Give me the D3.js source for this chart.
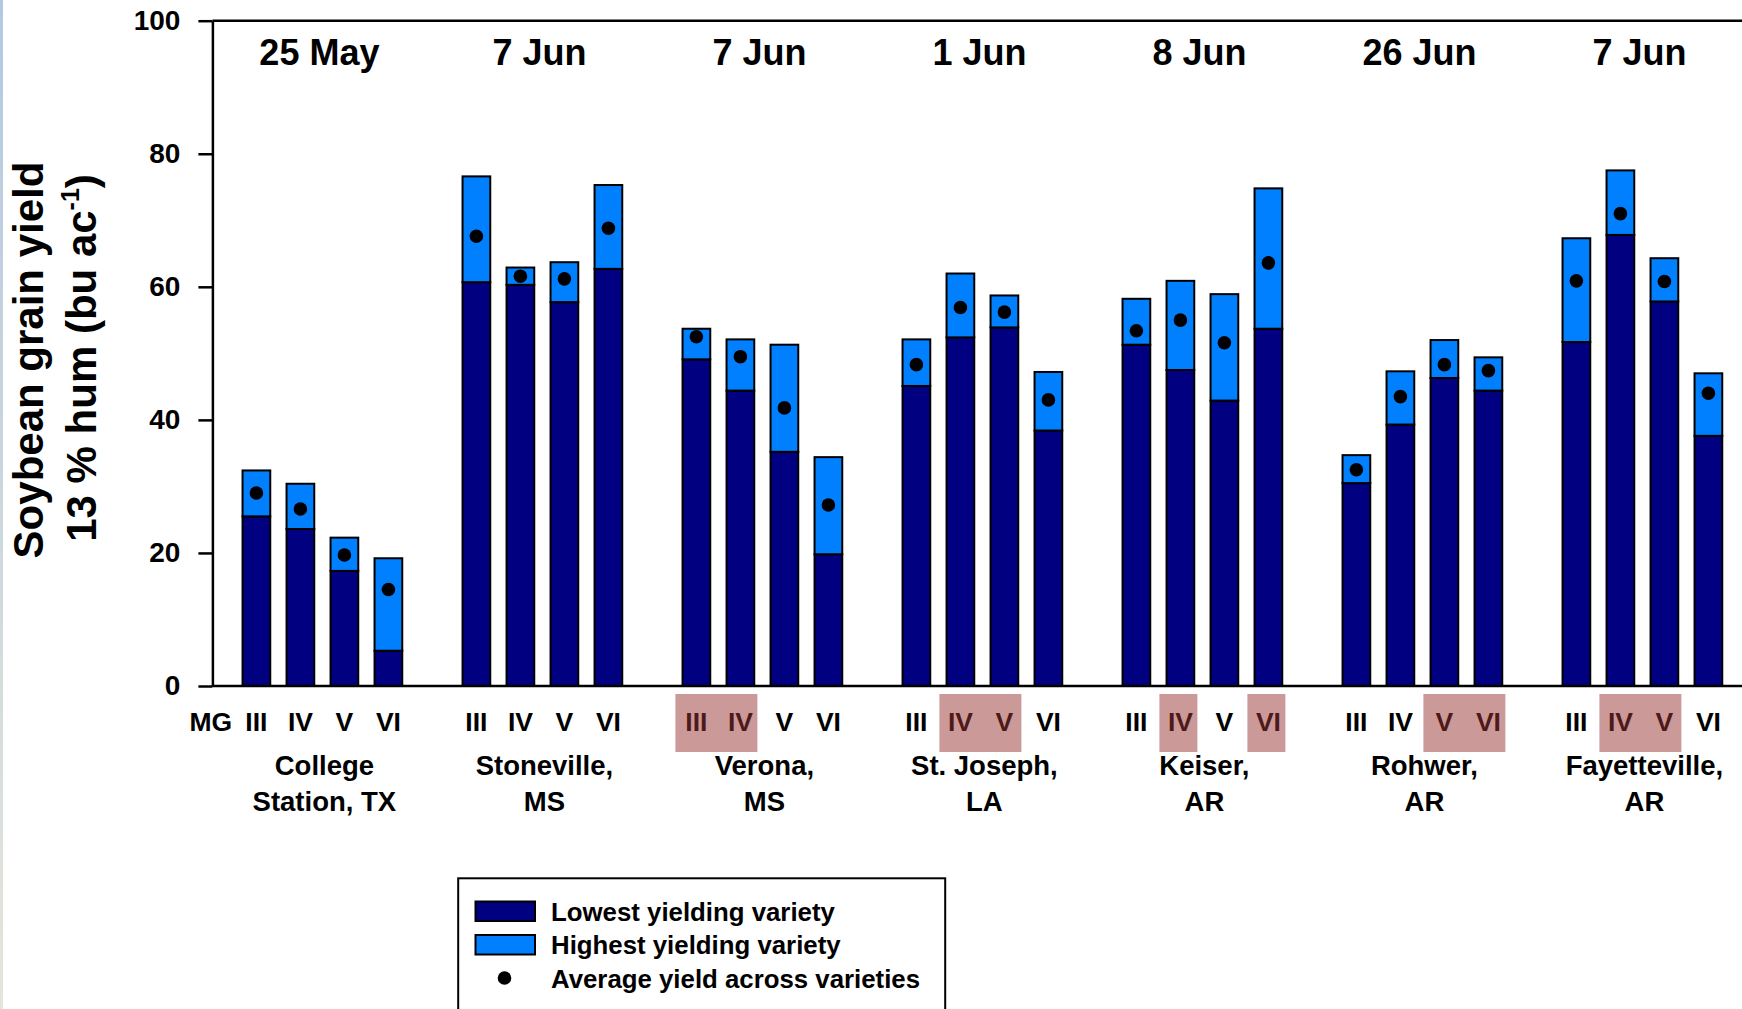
<!DOCTYPE html>
<html>
<head>
<meta charset="utf-8">
<script src="https://cdn.jsdelivr.net/npm/d3@7"></script>
<style>
  html, body { margin: 0; padding: 0; background: #fff; }
  svg { display: block; font-family: "Liberation Sans", Arial, sans-serif; font-weight: bold; }
</style>
</head>
<body>
<svg id="chart" width="1742" height="1009"></svg>
<script>
// Soybean yield by location and maturity group (MG)
const locations = ["College Station, TX", "Stoneville, MS", "Verona, MS", "St. Joseph, LA", "Keiser, AR", "Rohwer, AR", "Fayetteville, AR"];
const locationLines = [["College", "Station, TX"], ["Stoneville,", "MS"], ["Verona,", "MS"], ["St. Joseph,", "LA"], ["Keiser,", "AR"], ["Rohwer,", "AR"], ["Fayetteville,", "AR"]];
const plantingDates = ["25 May", "7 Jun", "7 Jun", "1 Jun", "8 Jun", "26 Jun", "7 Jun"];
const maturityGroups = ["III", "IV", "V", "VI"];

// yield (bu/ac) of the lowest yielding variety, per location, MG III..VI
const lowestYield = [
  [25.5, 23.6, 17.3, 5.3],
  [60.7, 60.3, 57.7, 62.7],
  [49.1, 44.4, 35.2, 19.8],
  [45.1, 52.4, 53.9, 38.4],
  [51.3, 47.5, 42.9, 53.7],
  [30.5, 39.3, 46.3, 44.4],
  [51.7, 67.8, 57.8, 37.6]
];
// yield of the highest yielding variety
const highestYield = [
  [32.4, 30.4, 22.3, 19.2],
  [76.6, 62.9, 63.7, 75.3],
  [53.7, 52.1, 51.3, 34.4],
  [52.1, 62.0, 58.7, 47.2],
  [58.2, 60.9, 58.9, 74.8],
  [34.7, 47.3, 52.0, 49.4],
  [67.3, 77.5, 64.3, 47.0]
];
// average yield across varieties
const averageYield = [
  [29.0, 26.6, 19.7, 14.5],
  [67.6, 61.6, 61.2, 68.8],
  [52.5, 49.5, 41.8, 27.2],
  [48.3, 56.9, 56.2, 43.0],
  [53.4, 55.0, 51.6, 63.6],
  [32.5, 43.5, 48.3, 47.4],
  [60.9, 71.0, 60.8, 44.0]
];
const yTicks = [0, 20, 40, 60, 80, 100];

// maturity groups marked at each location (runs of adjacent MGs)
const highlighted = [
  { loc: "Verona, MS", from: "III", to: "IV" },
  { loc: "St. Joseph, LA", from: "IV", to: "V" },
  { loc: "Keiser, AR", from: "IV", to: "IV" },
  { loc: "Keiser, AR", from: "VI", to: "VI" },
  { loc: "Rohwer, AR", from: "V", to: "VI" },
  { loc: "Fayetteville, AR", from: "IV", to: "V" }
];

const legendItems = ["Lowest yielding variety", "Highest yielding variety", "Average yield across varieties"];

const COL_LOW = "#000080", COL_HIGH = "#0080ff";

const svg = d3.select("#chart");

// left edge strip
const defs = svg.append("defs");
const grad = defs.append("linearGradient").attr("id", "edge").attr("x1", 0).attr("y1", 0).attr("x2", 0).attr("y2", 1);
grad.append("stop").attr("offset", "0%").attr("stop-color", "#b3c8e2");
grad.append("stop").attr("offset", "100%").attr("stop-color", "#e4e6da");
svg.append("rect").attr("x", 0).attr("y", 0).attr("width", 3).attr("height", 1009).attr("fill", "url(#edge)");

const axisX = 212.4;
const y = d3.scaleLinear().domain([0, 100]).range([686, 20.7]);
const x0 = d3.scaleBand().domain(locations).range([axisX, axisX + 1540]).paddingInner(0.2).paddingOuter(0.1);
const x1 = d3.scaleBand().domain(maturityGroups).range([0, x0.bandwidth()]).paddingInner(0.37).paddingOuter(0.185);

// bars
const rows = [];
locations.forEach((loc, i) => {
  maturityGroups.forEach((mg, j) => {
    rows.push({ loc, mg, low: lowestYield[i][j], high: highestYield[i][j], avg: averageYield[i][j] });
  });
});

const bars = svg.append("g");
bars.selectAll("rect.low").data(rows).join("rect").attr("class", "low")
  .attr("x", d => x0(d.loc) + x1(d.mg)).attr("width", x1.bandwidth())
  .attr("y", d => y(d.low)).attr("height", d => y(0) - y(d.low))
  .attr("fill", COL_LOW).attr("stroke", "#000").attr("stroke-width", 2);
bars.selectAll("rect.high").data(rows).join("rect").attr("class", "high")
  .attr("x", d => x0(d.loc) + x1(d.mg)).attr("width", x1.bandwidth())
  .attr("y", d => y(d.high)).attr("height", d => y(d.low) - y(d.high))
  .attr("fill", COL_HIGH).attr("stroke", "#000").attr("stroke-width", 2);
bars.selectAll("circle").data(rows).join("circle")
  .attr("cx", d => x0(d.loc) + x1(d.mg) + x1.bandwidth() / 2)
  .attr("cy", d => y(d.avg)).attr("r", 6.8).attr("fill", "#000");

// y axis
const yAxis = svg.append("g").attr("transform", `translate(${axisX},0)`)
  .call(d3.axisLeft(y).tickValues(yTicks).tickSize(14).tickSizeOuter(0).tickPadding(18));
yAxis.select(".domain").attr("stroke", "#000").attr("stroke-width", 2.5);
yAxis.selectAll(".tick line").attr("stroke", "#000").attr("stroke-width", 2.5);
yAxis.selectAll(".tick text").attr("font-size", 28).attr("font-weight", "bold")
  .attr("font-family", "Liberation Sans, Arial, sans-serif").attr("fill", "#000");

// frame lines along top and bottom
const rightEnd = x0.range()[1];
svg.append("line").attr("x1", axisX).attr("x2", rightEnd).attr("y1", y(100)).attr("y2", y(100))
  .attr("stroke", "#000").attr("stroke-width", 2.5);
svg.append("line").attr("x1", axisX).attr("x2", rightEnd).attr("y1", y(0)).attr("y2", y(0))
  .attr("stroke", "#000").attr("stroke-width", 2.5);

// planting dates
svg.append("g").selectAll("text").data(locations).join("text")
  .attr("x", d => x0(d) + x0.bandwidth() / 2 - 3).attr("y", 65)
  .attr("text-anchor", "middle").attr("font-size", 36).text((d, i) => plantingDates[i]);

// maturity group labels
const mgRow = svg.append("g");
mgRow.append("text").attr("x", axisX - 1.5).attr("y", 731).attr("text-anchor", "middle")
  .attr("font-size", 26.5).text("MG");
mgRow.selectAll("text.mg").data(rows).join("text").attr("class", "mg")
  .attr("x", d => x0(d.loc) + x1(d.mg) + x1.bandwidth() / 2).attr("y", 731)
  .attr("text-anchor", "middle").attr("font-size", 26.5).text(d => d.mg);

// location names
const locG = svg.append("g").selectAll("text").data(locations).join("text")
  .attr("text-anchor", "middle").attr("font-size", 27.5);
locG.each(function (d, i) {
  const cx = x0(d) + x0.bandwidth() / 2 + 2;
  const t = d3.select(this);
  t.append("tspan").attr("x", cx).attr("y", 775).text(locationLines[i][0]);
  t.append("tspan").attr("x", cx).attr("y", 811).text(locationLines[i][1]);
});

// marked maturity groups: translucent boxes over the labels
svg.append("g").selectAll("rect").data(highlighted).join("rect")
  .attr("x", d => x0(d.loc) + x1(d.from) + x1.bandwidth() / 2 - 21)
  .attr("width", d => x1(d.to) - x1(d.from) + 38)
  .attr("y", 694).attr("height", 58)
  .attr("fill", "#993333").attr("fill-opacity", 0.5);

// y axis title
const title = svg.append("g").attr("font-size", 42);
title.append("text").attr("transform", "translate(43,360) rotate(-90)").attr("text-anchor", "middle")
  .text("Soybean grain yield");
const t2 = title.append("text").attr("transform", "translate(96,358) rotate(-90)").attr("text-anchor", "middle");
t2.append("tspan").text("13 % hum (bu ac");
t2.append("tspan").attr("font-size", 25).attr("dy", -17).text("-1");
t2.append("tspan").attr("dy", 17).text(")");

// legend
const lg = svg.append("g");
lg.append("rect").attr("x", 458.2).attr("y", 878.3).attr("width", 487).attr("height", 150)
  .attr("fill", "#fff").attr("stroke", "#000").attr("stroke-width", 2);
const swatches = [COL_LOW, COL_HIGH];
lg.selectAll("rect.sw").data(swatches).join("rect").attr("class", "sw")
  .attr("x", 475.5).attr("y", (d, i) => 901.5 + i * 33.5).attr("width", 59.5).attr("height", 19.5)
  .attr("fill", d => d).attr("stroke", "#000").attr("stroke-width", 2);
lg.append("circle").attr("cx", 504.5).attr("cy", 978).attr("r", 6.8).attr("fill", "#000");
lg.selectAll("text").data(legendItems).join("text")
  .attr("x", 551).attr("y", (d, i) => 921 + i * 33.4).attr("font-size", 25.8).text(d => d);
</script>
</body>
</html>
